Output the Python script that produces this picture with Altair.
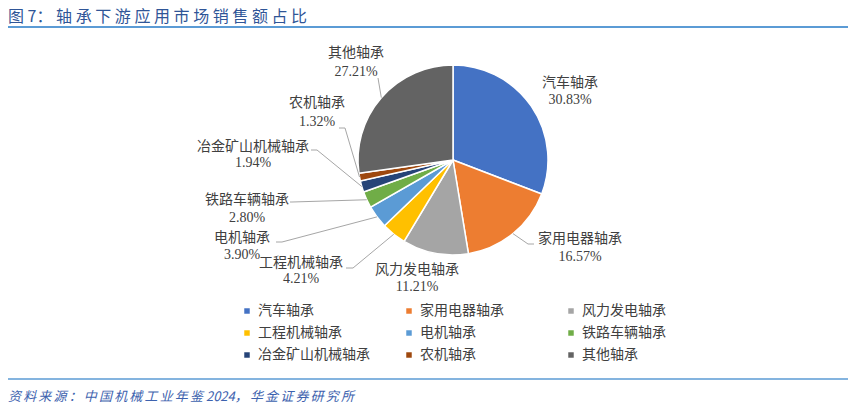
import altair as alt
import pandas as pd
import numpy as np

# ---------------- data ----------------
categories = ["汽车轴承", "家用电器轴承", "风力发电轴承", "工程机械轴承", "电机轴承",
              "铁路车辆轴承", "冶金矿山机械轴承", "农机轴承", "其他轴承"]
shares = [30.83, 16.57, 11.21, 4.21, 3.90, 2.80, 1.94, 1.32, 27.21]
colors = ["#4472C4", "#ED7D31", "#A5A5A5", "#FFC000", "#5B9BD5",
          "#70AD47", "#264478", "#9E480E", "#636363"]

title_text = "图 7： " + " ".join("轴承下游应用市场销售额占比")
source_text = ("\u2006".join("资料来源：中国机械工业年鉴") + " 2024"
               + "\u2006".join("，华金证券研究所"))

# ---------------- layout (pixels) ----------------
W, H = 840, 400
CX, CY, R = 445, 152, 95
label_x = [562, 572, 409, 293, 234, 239, 245, 309, 348]
name_y = [75, 231, 262, 255, 230, 192, 139, 95, 45]
pct_y = [92, 249, 279, 271, 247, 210, 155, 114, 64]
# leader line elbow and end points (None = no leader line)
leader_pts = [None, [(520, 236), (526, 236)], None, [(345, 260), (338, 260)],
              [(274, 234), (268, 234)], [(284, 194), (282, 194)],
              [(309, 142), (303, 142)], [(337, 120), (331, 120)],
              [(370, 70), (370, 70)]]

FONT_LBL = "Liberation Serif, Noto Sans CJK SC"
FONT_CJK = "Noto Sans CJK SC"
TXT = "#404040"

pie_df = pd.DataFrame({"cat": categories, "value": shares, "idx": range(len(categories))})

# label table
lab_df = pd.DataFrame({
    "cat": categories,
    "pct": [f"{v:.2f}%" for v in shares],
    "x": label_x, "ny": name_y, "py": pct_y,
})

# leader lines: start at slice edge (from data), go to elbow and end
total = sum(shares)
cum = np.cumsum([0] + shares)
rows = []
for i, c in enumerate(categories):
    pts = leader_pts[i]
    if pts is None:
        continue
    mid = (cum[i] + shares[i] / 2) / total * 2 * np.pi
    ex, ey = CX + R * np.sin(mid), CY - R * np.cos(mid)
    seq = [(ex, ey)] + pts
    for k, (px, py) in enumerate(seq):
        rows.append({"cat": c, "k": k, "px": px, "py": py})
lead_df = pd.DataFrame(rows)

pie = alt.Chart(pie_df).mark_arc(radius=R, stroke="white", strokeWidth=1.5).encode(
    theta=alt.Theta("value:Q", stack=True),
    order=alt.Order("idx:Q"),
    color=alt.Color("cat:N",
                    scale=alt.Scale(domain=categories, range=colors),
                    legend=alt.Legend(title=None, orient="none", legendX=232, legendY=296,
                                      direction="horizontal",
                                      columns=3, gridAlign="all", columnPadding=32,
                                      rowPadding=8, symbolType="square", symbolSize=30,
                                      symbolStrokeWidth=0, labelOffset=4,
                                      labelFont=FONT_CJK, labelFontSize=14,
                                      labelColor=TXT, padding=0, labelLimit=300)),
    x=alt.value(CX), y=alt.value(CY),
)

leaders = alt.Chart(lead_df).mark_line(color="#A6A6A6", strokeWidth=1).encode(
    x=alt.X("px:Q", scale=None), y=alt.Y("py:Q", scale=None),
    detail="cat:N", order="k:Q",
)

names = alt.Chart(lab_df).mark_text(font=FONT_LBL, fontSize=14, color=TXT,
                                    align="center", baseline="middle").encode(
    x=alt.X("x:Q", scale=None), y=alt.Y("ny:Q", scale=None), text="cat:N")
pcts = alt.Chart(lab_df).mark_text(font=FONT_LBL, fontSize=14, color=TXT,
                                   align="center", baseline="middle").encode(
    x=alt.X("x:Q", scale=None), y=alt.Y("py:Q", scale=None), text="pct:N")

title = alt.Chart(pd.DataFrame({"t": [title_text]})).mark_text(
    font=FONT_CJK, fontSize=16, color="#2F5597", align="left", baseline="middle").encode(
    x=alt.value(0), y=alt.value(9), text="t:N")

top_rule = alt.Chart(pd.DataFrame({"a": [0]})).mark_rule(color="#5B9BD5", strokeWidth=2).encode(
    x=alt.value(0), x2=alt.value(W), y=alt.value(19))
bot_rule = alt.Chart(pd.DataFrame({"a": [0]})).mark_rule(color="#5B9BD5", strokeWidth=1.5).encode(
    x=alt.value(0), x2=alt.value(W), y=alt.value(371))

source = alt.Chart(pd.DataFrame({"t": [source_text]})).mark_text(
    font=FONT_CJK, fontSize=13, fontStyle="italic", color="#3D62AE",
    align="left", baseline="middle").encode(
    x=alt.value(0), y=alt.value(389), text="t:N")

chart = alt.layer(pie, leaders, names, pcts, title, top_rule, bot_rule, source).properties(
    width=W, height=H, padding=0, autosize=alt.AutoSizeParams(type="none"),
    background="white",
).configure_view(stroke=None)

chart.save("out.html", embed_options={"renderer": "svg", "actions": False})
